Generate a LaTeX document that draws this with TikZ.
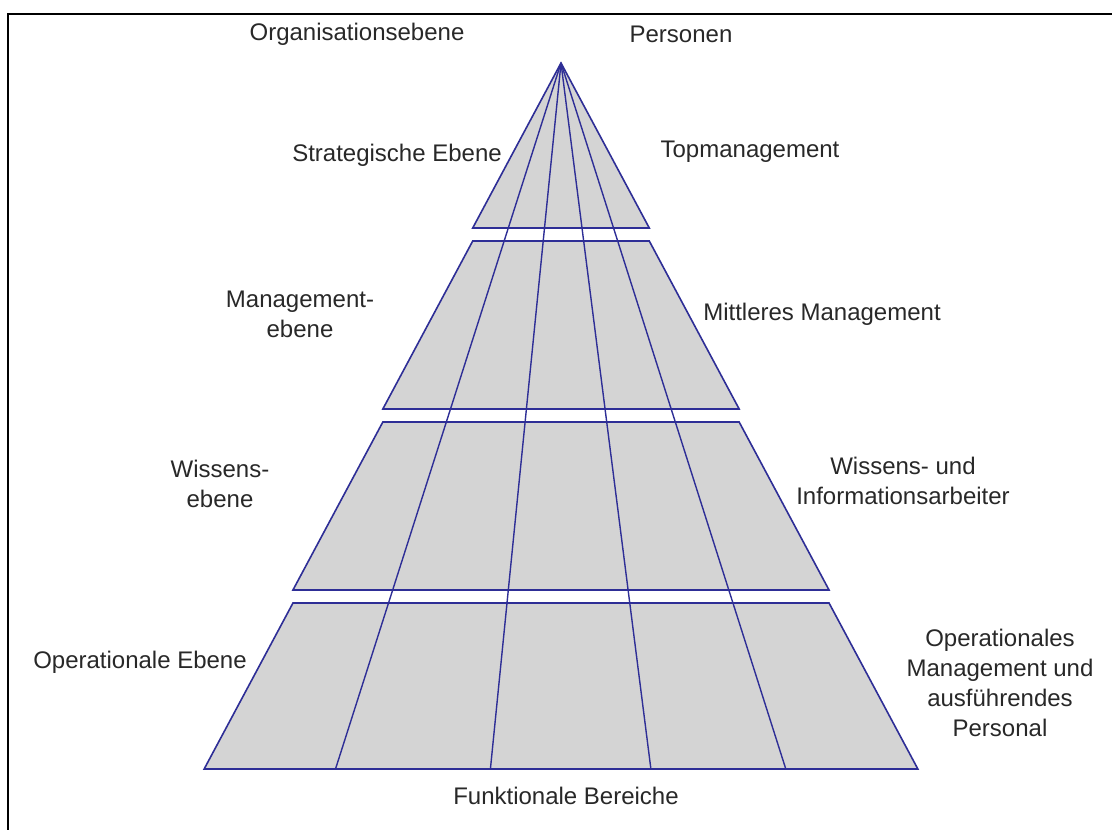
\documentclass[tikz,border=0pt]{standalone}
\usepackage{fontspec}
\setmainfont{Liberation Sans}
\definecolor{edgeblue}{RGB}{46,46,150}
\definecolor{bandgray}{RGB}{212,212,212}
\definecolor{labelgray}{RGB}{40,40,40}
\tikzset{
  band/.style={draw=edgeblue, fill=bandgray, line width=1.6pt, line join=miter},
  divider/.style={draw=edgeblue, line width=1.4pt},
  lbl/.style={text=labelgray, align=center, inner sep=0pt,
    font=\fontsize{24}{30}\selectfont}
}
\begin{document}
\begin{tikzpicture}[x=1pt, y=-1pt]
\useasboundingbox (0,0) rectangle (1112,830);
\clip (0,0) rectangle (1112,830);
\draw[line width=2.2pt] (8,14) rectangle (1140,860);
\coordinate (apex) at (561,63);
% top triangle
\draw[band] (apex) -- ({561+0.535*165},228) -- ({561-0.535*165},228) -- cycle;
% lower bands, shifted down by the gaps
\foreach \ta/\tb/\g in {165/333/13, 333/501/26, 501/667/39} {
  \draw[band] ({561-0.535*\ta},{63+\ta+\g}) -- ({561+0.535*\ta},{63+\ta+\g})
    -- ({561+0.535*\tb},{63+\tb+\g}) -- ({561-0.535*\tb},{63+\tb+\g}) -- cycle;
}
\foreach \x in {335.5,490.4,650.9,785.8}
  \draw[divider] (apex) -- (\x,769);
\node[lbl] (orgebene) at (357,34) {Organisationsebene};
\node[lbl] (personen) at (681,34) {Personen};
\node[lbl] (strat) at (397,155) {Strategische Ebene};
\node[lbl] (topmgmt) at (750,152) {Topmanagement};
\node[lbl] (mgmtebene) at (300,314) {Management-\\ebene};
\node[lbl] (mittel) at (822,314) {Mittleres Management};
\node[lbl] (wissebene) at (220,484) {Wissens-\\ebene};
\node[lbl] (wissarb) at (903,481) {Wissens- und\\Informationsarbeiter};
\node[lbl] (opebene) at (140,662) {Operationale Ebene};
\node[lbl] (opmgmt) at (1000,683) {Operationales\\Management und\\ausführendes\\Personal};
\node[lbl] (bereiche) at (566,796) {Funktionale Bereiche};
\end{tikzpicture}
\end{document}
